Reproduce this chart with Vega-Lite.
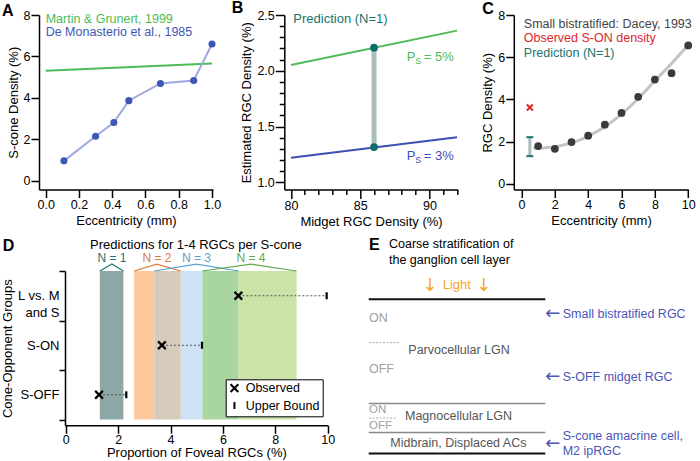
{
 "$schema": "https://vega.github.io/schema/vega-lite/v6.json",
 "padding": {"left": 1, "top": 0, "right": 0, "bottom": 0},
 "background": "white",
 "config": {
  "view": {"stroke": null},
  "font": "Liberation Sans",
  "axis": {"domainColor": "#000", "domainWidth": 1.5, "tickColor": "#000", "tickWidth": 1.5, "tickSize": 8, "labelFontSize": 12.5, "labelColor": "#000", "labelPadding": 1, "titleFontSize": 13, "titleFontWeight": "normal", "titleColor": "#000", "grid": false, "labelFlush": false, "labelOverlap": false, "titlePadding": 3},
  "title": {"fontSize": 16, "fontWeight": "bold", "anchor": "start", "frame": "group", "offset": 0, "color": "#000", "baseline": "alphabetic"}
 },
 "datasets": {
  "demon": [{"ecc":0.11,"dens":0.95},{"ecc":0.30,"dens":2.14},{"ecc":0.41,"dens":2.80},{"ecc":0.50,"dens":3.86},{"ecc":0.69,"dens":4.69},{"ecc":0.89,"dens":4.83},{"ecc":1.0,"dens":6.6}],
  "dacey": [{"ecc":1,"dens":1.79},{"ecc":2,"dens":1.66},{"ecc":3,"dens":1.98},{"ecc":4,"dens":2.28},{"ecc":5,"dens":2.80},{"ecc":6,"dens":3.36},{"ecc":7,"dens":4.12},{"ecc":8,"dens":4.94},{"ecc":9,"dens":5.24},{"ecc":10,"dens":6.56}],
  "obs": [{"group":"L vs. M and S","y":2.5,"Observed":6.59,"Upper Bound":9.96},{"group":"S-ON","y":1.5,"Observed":3.67,"Upper Bound":5.2},{"group":"S-OFF","y":0.5,"Observed":1.27,"Upper Bound":2.31}],
  "ps": [{"ps":"5%","mrgc":88.36,"est":2.122,"eq":"= 5%"},{"ps":"3%","mrgc":88.36,"est":1.236,"eq":"= 3%"}]
 },
 "bounds": "full",
 "spacing": 9,
 "vconcat": [
  {
   "bounds": "flush",
   "spacing": 71.3,
   "hconcat": [
    {
     "width": 174, "height": 174.5,
     "title": {"text": "A", "dx": -37, "dy": 14},
     "encoding": {
      "x": {"field": "ecc", "type": "quantitative", "scale": {"domain": [-0.04, 1.006], "nice": false, "zero": false}, "axis": {"values": [0, 0.2, 0.4, 0.6, 0.8, 1], "format": ".1f", "title": "Eccentricity (mm)"}},
      "y": {"field": "dens", "type": "quantitative", "scale": {"domain": [-0.435, 8], "nice": false, "zero": false}, "axis": {"values": [0, 2, 4, 6, 8], "title": "S-cone Density (%)"}}
     },
     "layer": [
      {"data": {"values": [{"ecc": 0, "dens": 5.30}, {"ecc": 1, "dens": 5.65}]}, "mark": {"type": "line", "color": "#4dbb57", "strokeWidth": 2}},
      {"data": {"name": "demon"}, "mark": {"type": "line", "color": "#9ea9e0", "strokeWidth": 2}},
      {"data": {"name": "demon"}, "mark": {"type": "circle", "color": "#3c57b5", "size": 50, "opacity": 1}},
      {"data": {"values": [{"t": "Martin & Grunert, 1999", "ecc": 0, "dens": 7.82}]}, "mark": {"type": "text", "align": "left", "baseline": "middle", "fontSize": 12.5, "color": "#4dbb57"}, "encoding": {"text": {"field": "t"}}},
      {"data": {"values": [{"t": "De Monasterio et al., 1985", "ecc": 0, "dens": 7.17}]}, "mark": {"type": "text", "align": "left", "baseline": "middle", "fontSize": 12.5, "color": "#3c57b5"}, "encoding": {"text": {"field": "t"}}}
     ]
    },
    {
     "bounds": "flush",
     "spacing": 55.5,
     "hconcat": [
      {
       "width": 173.5, "height": 174.5,
       "title": {"text": "B", "dx": -52.6, "dy": 11},
       "encoding": {
        "x": {"field": "mrgc", "type": "quantitative", "scale": {"domain": [79.52, 92.05], "nice": false, "zero": false}, "axis": {"values": [80,81,82,83,84,85,86,87,88,89,90,91,92], "labelExpr": "datum.value % 5 == 0 ? datum.label : ''", "tickSize": {"condition": {"test": "datum.value % 5 == 0", "value": 9}, "value": 5}, "title": "Midget RGC Density (%)"}},
        "y": {"field": "est", "type": "quantitative", "scale": {"domain": [0.937, 2.5], "nice": false, "zero": false}, "axis": {"values": [1,1.1,1.2,1.3,1.4,1.5,1.6,1.7,1.8,1.9,2,2.1,2.2,2.3,2.4,2.5], "labelExpr": "abs(datum.value*2-round(datum.value*2))<0.001 ? format(datum.value,'.1f') : ''", "tickSize": {"condition": {"test": "abs(datum.value*2-round(datum.value*2))<0.001", "value": 9}, "value": 5}, "title": "Estimated RGC Density (%)"}}
       },
       "resolve": {"scale": {"color": "independent"}},
       "layer": [
        {"data": {"values": [{"ps": "5%", "mrgc": 80, "est": 2.052}, {"ps": "5%", "mrgc": 92, "est": 2.36}, {"ps": "3%", "mrgc": 80, "est": 1.221}, {"ps": "3%", "mrgc": 92, "est": 1.406}]}, "mark": {"type": "line", "strokeWidth": 2}, "encoding": {"color": {"field": "ps", "type": "nominal", "scale": {"domain": ["5%", "3%"], "range": ["#4dbb57", "#3f4fb3"]}, "legend": null}}},
        {"data": {"values": [{"mrgc": 86, "est": 1.317, "est2": 2.207}]}, "mark": {"type": "rule", "color": "#a9bdbc", "strokeWidth": 5}, "encoding": {"y2": {"field": "est2"}}},
        {"data": {"values": [{"mrgc": 86, "est": 2.207}, {"mrgc": 86, "est": 1.317}]}, "mark": {"type": "circle", "color": "#0f6e66", "size": 60, "opacity": 1}},
        {"data": {"values": [{"t": "Prediction (N=1)", "mrgc": 80.17, "est": 2.46}]}, "mark": {"type": "text", "align": "left", "baseline": "middle", "fontSize": 13, "color": "#1b746c"}, "encoding": {"text": {"field": "t"}}},
        {"data": {"name": "ps"}, "mark": {"type": "text", "align": "left", "baseline": "middle", "fontSize": 13}, "encoding": {"text": {"value": "P"}, "color": {"field": "ps", "type": "nominal", "scale": {"domain": ["5%", "3%"], "range": ["#4dbb57", "#3f4fb3"]}, "legend": null}}},
        {"data": {"name": "ps"}, "mark": {"type": "text", "align": "left", "baseline": "middle", "fontSize": 9, "dx": 8.5, "dy": 4}, "encoding": {"text": {"value": "S"}, "color": {"field": "ps", "type": "nominal", "scale": {"domain": ["5%", "3%"], "range": ["#4dbb57", "#3f4fb3"]}, "legend": null}}},
        {"data": {"name": "ps"}, "mark": {"type": "text", "align": "left", "baseline": "middle", "fontSize": 13, "dx": 17}, "encoding": {"text": {"field": "eq"}, "color": {"field": "ps", "type": "nominal", "scale": {"domain": ["5%", "3%"], "range": ["#4dbb57", "#3f4fb3"]}, "legend": null}}}
       ]
      },
      {
       "width": 174.5, "height": 174.5,
       "title": {"text": "C", "dx": -31.6, "dy": 12},
       "encoding": {
        "x": {"field": "ecc", "type": "quantitative", "scale": {"domain": [-0.462, 10.006], "nice": false, "zero": false}, "axis": {"values": [0, 2, 4, 6, 8, 10], "title": "Eccentricity (mm)"}},
        "y": {"field": "dens", "type": "quantitative", "scale": {"domain": [-0.27, 8], "nice": false, "zero": false}, "axis": {"values": [0, 2, 4, 6, 8], "title": "RGC Density (%)"}}
       },
       "layer": [
        {"data": {"values": [{"ecc":0.7,"dens":1.68},{"ecc":1,"dens":1.69},{"ecc":2,"dens":1.76},{"ecc":3,"dens":1.94},{"ecc":4,"dens":2.25},{"ecc":5,"dens":2.7},{"ecc":6,"dens":3.3},{"ecc":7,"dens":4.03},{"ecc":8,"dens":4.88},{"ecc":9,"dens":5.7},{"ecc":10,"dens":6.58}]}, "mark": {"type": "line", "color": "#c4c4c4", "strokeWidth": 3, "interpolate": "monotone"}},
        {"data": {"name": "dacey"}, "mark": {"type": "circle", "color": "#3b3b3b", "size": 60, "opacity": 1}},
        {"data": {"values": [{"ecc": 0.5, "dens": 1.31, "dens2": 2.21}]}, "mark": {"type": "rule", "color": "#a9bdbc", "strokeWidth": 3}, "encoding": {"y2": {"field": "dens2"}}},
        {"data": {"values": [{"ecc": 0.5, "dens": 1.31}, {"ecc": 0.5, "dens": 2.21}]}, "mark": {"type": "point", "shape": "M-1,0L1,0", "filled": false, "color": "#1b746c", "strokeWidth": 2, "size": 49, "opacity": 1}},
        {"data": {"values": [{"ecc": 0.5, "dens": 3.62}]}, "mark": {"type": "point", "shape": "M-1,-1L1,1M-1,1L1,-1", "filled": false, "color": "#e0262b", "strokeWidth": 2, "size": 36, "opacity": 1}},
        {"data": {"values": [{"t": "Small bistratified: Dacey, 1993", "ecc": 0.14, "dens": 7.58}, {"t": "Observed S-ON density", "ecc": 0.14, "dens": 6.9}, {"t": "Prediction (N=1)", "ecc": 0.14, "dens": 6.21}]}, "mark": {"type": "text", "align": "left", "baseline": "middle", "fontSize": 12.5}, "encoding": {"text": {"field": "t"}, "color": {"field": "t", "type": "nominal", "scale": {"domain": ["Small bistratified: Dacey, 1993", "Observed S-ON density", "Prediction (N=1)"], "range": ["#444444", "#e0262b", "#1b746c"]}, "legend": null}}}
       ]
      }
     ]
    }
   ]
  },
  {
   "bounds": "flush",
   "spacing": 0,
   "hconcat": [
    {"width": 25.3, "height": 10, "data": {"values": []}, "mark": "point"},
    {
     "bounds": "flush",
     "spacing": 25,
     "hconcat": [
      {
       "width": 262.7, "height": 154.3,
       "title": {"text": "D", "dx": -62.3, "dy": 19},
       "encoding": {
        "x": {"field": "x", "type": "quantitative", "scale": {"domain": [-0.03, 10], "nice": false, "zero": false}, "axis": {"values": [0, 2, 4, 6, 8, 10], "labelPadding": 0, "titlePadding": 1, "title": "Proportion of Foveal RGCs (%)"}},
        "y": {"field": "y", "type": "quantitative", "scale": {"domain": [-0.117, 3], "nice": false, "zero": false}, "axis": {"values": [0, 0.5, 1, 1.5, 2, 2.5, 3], "tickSize": 6, "labelFontSize": 13, "labelLineHeight": 17, "labelPadding": 0, "tickOpacity": {"condition": {"test": "datum.value % 1 != 0", "value": 0}, "value": 1}, "labelExpr": "datum.value==2.5 ? ['L vs. M','and S'] : datum.value==1.5 ? 'S-ON' : datum.value==0.5 ? 'S-OFF' : ''", "title": "Cone-Opponent Groups"}}
       },
       "resolve": {"scale": {"color": "independent", "shape": "independent"}},
       "layer": [
        {"data": {"values": [{"seg": "N1", "x": 1.3, "x2": 2.2, "y": 0, "y2": 3}, {"seg": "N2", "x": 2.61, "x2": 3.38, "y": 0, "y2": 3}, {"seg": "N2N3", "x": 3.38, "x2": 4.39, "y": 0, "y2": 3}, {"seg": "N3", "x": 4.39, "x2": 5.22, "y": 0, "y2": 3}, {"seg": "N3N4", "x": 5.22, "x2": 6.6, "y": 0, "y2": 3}, {"seg": "N4", "x": 6.6, "x2": 8.81, "y": 0, "y2": 3}]}, "mark": {"type": "rect", "opacity": 1}, "encoding": {"x2": {"field": "x2"}, "y2": {"field": "y2"}, "color": {"field": "seg", "type": "nominal", "scale": {"domain": ["N1", "N2", "N2N3", "N3", "N3N4", "N4"], "range": ["#8fa6a6", "#fdc89b", "#d6cabb", "#cde2f4", "#a9d6a0", "#cbe3a7"]}, "legend": null}}},
        {"data": {"values": [{"n": "N = 1", "x": 1.3, "y": 3, "o": 0}, {"n": "N = 1", "x": 1.76, "y": 3.14, "o": 1}, {"n": "N = 1", "x": 2.2, "y": 3, "o": 2}, {"n": "N = 2", "x": 2.61, "y": 3, "o": 0}, {"n": "N = 2", "x": 3.48, "y": 3.14, "o": 1}, {"n": "N = 2", "x": 4.39, "y": 3, "o": 2}, {"n": "N = 3", "x": 3.38, "y": 3, "o": 0}, {"n": "N = 3", "x": 4.99, "y": 3.14, "o": 1}, {"n": "N = 3", "x": 6.6, "y": 3, "o": 2}, {"n": "N = 4", "x": 5.22, "y": 3, "o": 0}, {"n": "N = 4", "x": 7.07, "y": 3.14, "o": 1}, {"n": "N = 4", "x": 8.81, "y": 3, "o": 2}]}, "mark": {"type": "line", "strokeWidth": 1.2}, "encoding": {"order": {"field": "o", "type": "quantitative"}, "color": {"field": "n", "type": "nominal", "scale": {"domain": ["N = 1", "N = 2", "N = 3", "N = 4"], "range": ["#1d7874", "#e07a3a", "#5aa0d0", "#5fa84a"]}, "legend": null}}},
        {"data": {"values": [{"n": "N = 1", "x": 1.76, "y": 3.267}, {"n": "N = 2", "x": 3.48, "y": 3.267}, {"n": "N = 3", "x": 4.99, "y": 3.267}, {"n": "N = 4", "x": 7.07, "y": 3.267}]}, "mark": {"type": "text", "align": "center", "baseline": "middle", "fontSize": 12}, "encoding": {"text": {"field": "n"}, "color": {"field": "n", "type": "nominal", "scale": {"domain": ["N = 1", "N = 2", "N = 3", "N = 4"], "range": ["#1d7874", "#e07a3a", "#5aa0d0", "#5fa84a"]}, "legend": null}}},
        {"data": {"values": [{"t": "Predictions for 1-4 RGCs per S-cone", "x": 4.97, "y": 3.533}]}, "mark": {"type": "text", "align": "center", "baseline": "middle", "fontSize": 13, "color": "#000"}, "encoding": {"text": {"field": "t"}}},
        {"data": {"name": "obs"}, "mark": {"type": "rule", "color": "#555", "strokeWidth": 1, "strokeDash": [2, 2]}, "encoding": {"x": {"field": "Observed", "type": "quantitative"}, "x2": {"field": "Upper Bound"}}},
        {"data": {"name": "obs"}, "transform": [{"fold": ["Observed", "Upper Bound"], "as": ["kind", "x"]}], "mark": {"type": "point", "filled": false, "color": "#000", "strokeWidth": 2.2, "size": 60, "opacity": 1}, "encoding": {"shape": {"field": "kind", "type": "nominal", "scale": {"domain": ["Observed", "Upper Bound"], "range": ["M-1,-1L1,1M-1,1L1,-1", "M0,-0.9L0,0.9"]}, "legend": {"title": null, "orient": "none", "legendX": 160.7, "legendY": 108.3, "strokeColor": "#000", "fillColor": "#fff", "padding": 2.5, "labelFontSize": 12.5, "labelColor": "#000", "symbolStrokeWidth": 2, "symbolSize": 60, "symbolStrokeColor": "#000", "labelOffset": 5, "rowPadding": 0.5}}}}
       ]
      },
      {
       "width": 340, "height": 190,
       "encoding": {
        "x": {"field": "x", "type": "quantitative", "scale": {"domain": [0, 340], "nice": false, "zero": false}, "axis": null},
        "y": {"field": "y", "type": "quantitative", "scale": {"domain": [0, 190], "nice": false, "zero": false, "reverse": true}, "axis": null}
       },
       "layer": [
        {"data": {"values": [{"x": 15.7, "x2": 192.3, "y": 28.3}, {"x": 15.7, "x2": 192.3, "y": 182.6}]}, "mark": {"type": "rule", "color": "#111", "strokeWidth": 2}, "encoding": {"x2": {"field": "x2"}}},
        {"data": {"values": [{"x": 15.7, "x2": 192.3, "y": 132.6}, {"x": 15.7, "x2": 192.3, "y": 161.6}]}, "mark": {"type": "rule", "color": "#888", "strokeWidth": 1.5}, "encoding": {"x2": {"field": "x2"}}},
        {"data": {"values": [{"x": 16, "x2": 46, "y": 71.6}, {"x": 16, "x2": 44, "y": 147}]}, "mark": {"type": "rule", "color": "#aaa", "strokeWidth": 1, "strokeDash": [2, 1.5]}, "encoding": {"x2": {"field": "x2"}}},
        {"data": {"values": [{"t": "E", "x": 16, "y": -20.7}]}, "mark": {"type": "text", "align": "left", "baseline": "alphabetic", "fontSize": 16, "fontWeight": "bold", "color": "#000"}, "encoding": {"text": {"field": "t"}}},
        {"data": {"values": [{"t": "Coarse stratification of", "x": 36, "y": -26.7}, {"t": "the ganglion cell layer", "x": 36, "y": -10.7}]}, "mark": {"type": "text", "align": "left", "baseline": "middle", "fontSize": 12.5, "color": "#000"}, "encoding": {"text": {"field": "t"}}},
        {"data": {"values": [{"t": "Light", "x": 89.7, "y": 14.3}]}, "mark": {"type": "text", "align": "left", "baseline": "middle", "fontSize": 13, "color": "#f5a623"}, "encoding": {"text": {"field": "t"}}},
        {"data": {"values": [{"t": "↓", "x": 77, "y": 14.8}, {"t": "↓", "x": 130.7, "y": 14.8}]}, "mark": {"type": "text", "align": "center", "baseline": "middle", "fontSize": 18, "font": "DejaVu Sans", "color": "#f5a623"}, "encoding": {"text": {"field": "t"}}},
        {"data": {"values": [{"t": "ON", "x": 16, "y": 47}, {"t": "OFF", "x": 16, "y": 98.3}]}, "mark": {"type": "text", "align": "left", "baseline": "middle", "fontSize": 12.5, "color": "#a0a0a0"}, "encoding": {"text": {"field": "t"}}},
        {"data": {"values": [{"t": "ON", "x": 16, "y": 139.3}, {"t": "OFF", "x": 16, "y": 155}]}, "mark": {"type": "text", "align": "left", "baseline": "middle", "fontSize": 11.5, "color": "#a0a0a0"}, "encoding": {"text": {"field": "t"}}},
        {"data": {"values": [{"t": "Parvocellular LGN", "x": 55.3, "y": 78.6}, {"t": "Magnocellular LGN", "x": 52, "y": 145}, {"t": "Midbrain, Displaced ACs", "x": 37.3, "y": 171.6}]}, "mark": {"type": "text", "align": "left", "baseline": "middle", "fontSize": 12.5, "color": "#555"}, "encoding": {"text": {"field": "t"}}},
        {"data": {"values": [{"t": "Small bistratified RGC", "x": 209.7, "y": 42.6}, {"t": "S-OFF midget RGC", "x": 209.7, "y": 106}, {"t": "S-cone amacrine cell,", "x": 209.7, "y": 165}, {"t": "M2 ipRGC", "x": 209.7, "y": 180}]}, "mark": {"type": "text", "align": "left", "baseline": "middle", "fontSize": 12.5, "color": "#4b55b6"}, "encoding": {"text": {"field": "t"}}},
        {"data": {"values": [{"t": "←", "x": 207.3, "y": 42.6}, {"t": "←", "x": 207.3, "y": 106}, {"t": "←", "x": 207.3, "y": 172.6}]}, "mark": {"type": "text", "align": "right", "baseline": "middle", "fontSize": 18, "font": "DejaVu Sans", "color": "#4b55b6"}, "encoding": {"text": {"field": "t"}}}
       ]
      }
     ]
    }
   ]
  }
 ]
}
